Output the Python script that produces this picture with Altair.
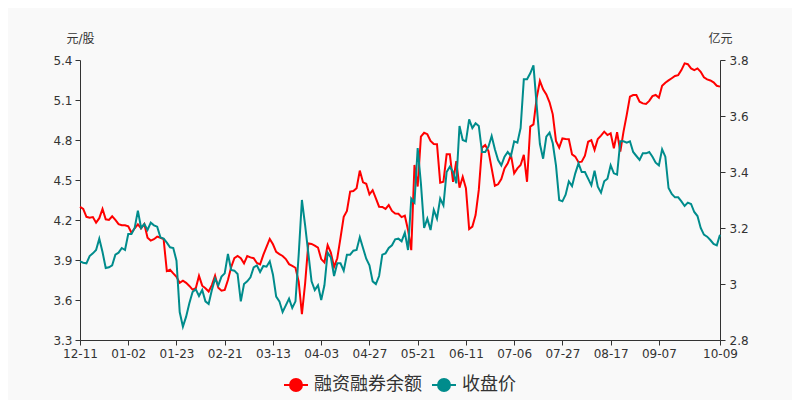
import altair as alt
import pandas as pd

tick_labels = ["12-11", "01-02", "01-23", "02-21", "03-13", "04-03", "04-27",
               "05-21", "06-11", "07-06", "07-27", "08-17", "09-07", "10-09"]
tick_positions = [0, 15, 30, 45, 60, 75, 90, 105, 120, 135, 150, 165, 180, 199]

# 融资融券余额 (亿元, right axis)
margin_balance = [
    3.276, 3.268, 3.240, 3.237, 3.239, 3.219, 3.235, 3.268, 3.231, 3.229,
    3.242, 3.229, 3.214, 3.210, 3.210, 3.206, 3.183, 3.199, 3.213, 3.199,
    3.214, 3.165, 3.155, 3.160, 3.169, 3.165, 3.160, 3.046, 3.051, 3.038,
    3.026, 3.004, 3.012, 3.004, 2.993, 2.980, 2.985, 3.029, 2.994, 2.985,
    2.973, 2.996, 3.030, 2.987, 2.976, 2.979, 3.014, 3.060, 3.092, 3.100,
    3.092, 3.074, 3.100, 3.095, 3.092, 3.075, 3.070, 3.104, 3.133, 3.161,
    3.142, 3.115, 3.107, 3.100, 3.089, 3.071, 3.065, 3.058, 3.008, 2.892,
    3.002, 3.145, 3.143, 3.137, 3.130, 3.089, 3.077, 3.139, 3.112, 3.061,
    3.092, 3.165, 3.240, 3.261, 3.330, 3.332, 3.342, 3.405, 3.363, 3.358,
    3.320, 3.335, 3.306, 3.276, 3.275, 3.268, 3.282, 3.261, 3.252, 3.251,
    3.239, 3.244, 3.193, 3.121, 3.425, 3.348, 3.526, 3.540, 3.535, 3.511,
    3.500, 3.499, 3.362, 3.365, 3.463, 3.463, 3.365, 3.439, 3.344, 3.383,
    3.342, 3.196, 3.205, 3.246, 3.336, 3.487, 3.496, 3.475, 3.413, 3.351,
    3.356, 3.375, 3.413, 3.431, 3.461, 3.395, 3.413, 3.425, 3.461, 3.365,
    3.562, 3.570, 3.665, 3.725, 3.695, 3.677, 3.649, 3.606, 3.511, 3.487,
    3.520, 3.518, 3.517, 3.463, 3.455, 3.435, 3.437, 3.458, 3.508, 3.514,
    3.479, 3.518, 3.530, 3.544, 3.532, 3.538, 3.485, 3.542, 3.473, 3.544,
    3.604, 3.669, 3.675, 3.675, 3.651, 3.645, 3.643, 3.654, 3.671, 3.675,
    3.665, 3.708, 3.719, 3.727, 3.735, 3.743, 3.746, 3.764, 3.788, 3.785,
    3.770, 3.764, 3.770, 3.758, 3.738, 3.731, 3.727, 3.720, 3.708, 3.705,
]

# 收盘价 (元/股, left axis)
close_price = [
    3.89, 3.88, 3.875, 3.93, 3.95, 3.975, 4.06, 3.96, 3.84, 3.845,
    3.86, 3.94, 3.955, 3.99, 3.975, 4.095, 4.095, 4.14, 4.27, 4.14,
    4.17, 4.125, 4.18, 4.16, 4.15, 4.07, 4.06, 4.03, 3.995, 3.99,
    3.895, 3.51, 3.40, 3.475, 3.575, 3.66, 3.68, 3.63, 3.675, 3.59,
    3.57, 3.675, 3.76, 3.71, 3.775, 3.80, 3.945, 3.825, 3.82, 3.795,
    3.59, 3.72, 3.74, 3.77, 3.845, 3.86, 3.81, 3.855, 3.85, 3.89,
    3.79, 3.625, 3.59, 3.51, 3.56, 3.61, 3.54, 3.59, 3.94, 4.35,
    4.16, 3.95, 3.74, 3.675, 3.71, 3.60, 3.71, 3.955, 3.92, 3.78,
    3.875, 3.875, 3.82, 3.94, 3.94, 3.97, 3.975, 4.07, 3.99, 3.91,
    3.86, 3.74, 3.72, 3.78, 3.94, 3.95, 3.99, 4.01, 4.055, 4.06,
    4.04, 4.105, 3.975, 4.36, 4.33, 4.74, 4.475, 4.14, 4.21, 4.125,
    4.275, 4.21, 4.36, 4.31, 4.56, 4.60, 4.56, 4.475, 4.905, 4.80,
    4.79, 4.955, 4.89, 4.925, 4.905, 4.71, 4.71, 4.75, 4.83, 4.73,
    4.65, 4.61, 4.675, 4.71, 4.68, 4.79, 4.78, 4.89, 5.255, 5.255,
    5.30, 5.36, 5.06, 4.77, 4.66, 4.825, 4.855, 4.775, 4.61, 4.35,
    4.34, 4.39, 4.49, 4.455, 4.55, 4.625, 4.56, 4.56, 4.51, 4.46,
    4.57, 4.45, 4.405, 4.49, 4.51, 4.61, 4.55, 4.54, 4.79, 4.79,
    4.78, 4.79, 4.71, 4.68, 4.65, 4.70, 4.70, 4.71, 4.675, 4.63,
    4.61, 4.73, 4.675, 4.44, 4.395, 4.37, 4.37, 4.34, 4.305, 4.33,
    4.32, 4.26, 4.23, 4.14, 4.09, 4.075, 4.05, 4.02, 4.01, 4.09,
]

series_names = ["融资融券余额", "收盘价"]
series_colors = ["#ff0000", "#008c8c"]

df = pd.DataFrame({
    "idx": list(range(len(close_price))),
    "margin": margin_balance,
    "close": close_price,
    "s_margin": [series_names[0]] * len(margin_balance),
    "s_close": [series_names[1]] * len(close_price),
})

label_expr = "[" + ",".join("'%s'" % t for t in tick_labels) + "][indexof([" + \
    ",".join(str(p) for p in tick_positions) + "], datum.value)]"

AX = "#333333"
FONT = "DejaVu Sans, Noto Sans CJK SC"
SYMBOL = "M-1,0L1,0M-0.5,0A0.5,0.5,0,1,0,0.5,0A0.5,0.5,0,1,0,-0.5,0Z"

x_enc = alt.X(
    "idx:Q",
    scale=alt.Scale(domain=[0, 199], nice=False, zero=False),
    axis=alt.Axis(values=tick_positions, labelExpr=label_expr, title=None,
                  grid=False, tickSize=5, labelPadding=3, labelFontSize=12,
                  labelColor=AX, domainColor=AX, tickColor=AX, labelFont=FONT,
                  labelFlush=False, labelOverlap=False),
)


def make_legend(x, color):
    return alt.Legend(
        orient="none", legendX=x, legendY=312, direction="horizontal",
        title=None, symbolType=SYMBOL, symbolSize=576, symbolStrokeWidth=2,
        symbolFillColor=color, symbolStrokeColor=color,
        labelFontSize=18, labelFont="Noto Sans CJK SC", labelColor=AX,
        labelOffset=5,
    )


def y_axis(orient, values, title, pad):
    return alt.Axis(orient=orient, values=values, format="~g", title=title,
                    titleAngle=0, titleX=0, titleY=-18, titleAlign="center",
                    titleBaseline="alphabetic", titleFontSize=12,
                    titleFontWeight="normal", titleColor=AX, titleFont=FONT,
                    grid=False, tickSize=5, labelPadding=pad, labelFontSize=12,
                    labelColor=AX, domainColor=AX, tickColor=AX, labelFont=FONT)


base = alt.Chart(df)

red = base.mark_line(strokeWidth=2).encode(
    x=x_enc,
    y=alt.Y("margin:Q",
            scale=alt.Scale(domain=[2.8, 3.8], nice=False, zero=False),
            axis=y_axis("right", [2.8, 3.0, 3.2, 3.4, 3.6, 3.8], "亿元", 4)),
    color=alt.Color("s_margin:N",
                    scale=alt.Scale(domain=[series_names[0]], range=[series_colors[0]]),
                    legend=make_legend(203, series_colors[0])),
)

teal = base.mark_line(strokeWidth=2).encode(
    x=x_enc,
    y=alt.Y("close:Q",
            scale=alt.Scale(domain=[3.3, 5.4], nice=False, zero=False),
            axis=y_axis("left", [3.3, 3.6, 3.9, 4.2, 4.5, 4.8, 5.1, 5.4], "元/股", 3)),
    color=alt.Color("s_close:N",
                    scale=alt.Scale(domain=[series_names[1]], range=[series_colors[1]]),
                    legend=make_legend(351, series_colors[1])),
)

chart = alt.layer(red, teal).resolve_scale(
    y="independent", color="independent"
).properties(
    width=640, height=280,
    autosize=alt.AutoSizeParams(type="none"),
    padding={"left": 72, "top": 52, "right": 72, "bottom": 60},
    background="#f9f9f9",
).configure_view(strokeWidth=0)

chart.save("out.html", embed_options={"renderer": "svg", "actions": False})
